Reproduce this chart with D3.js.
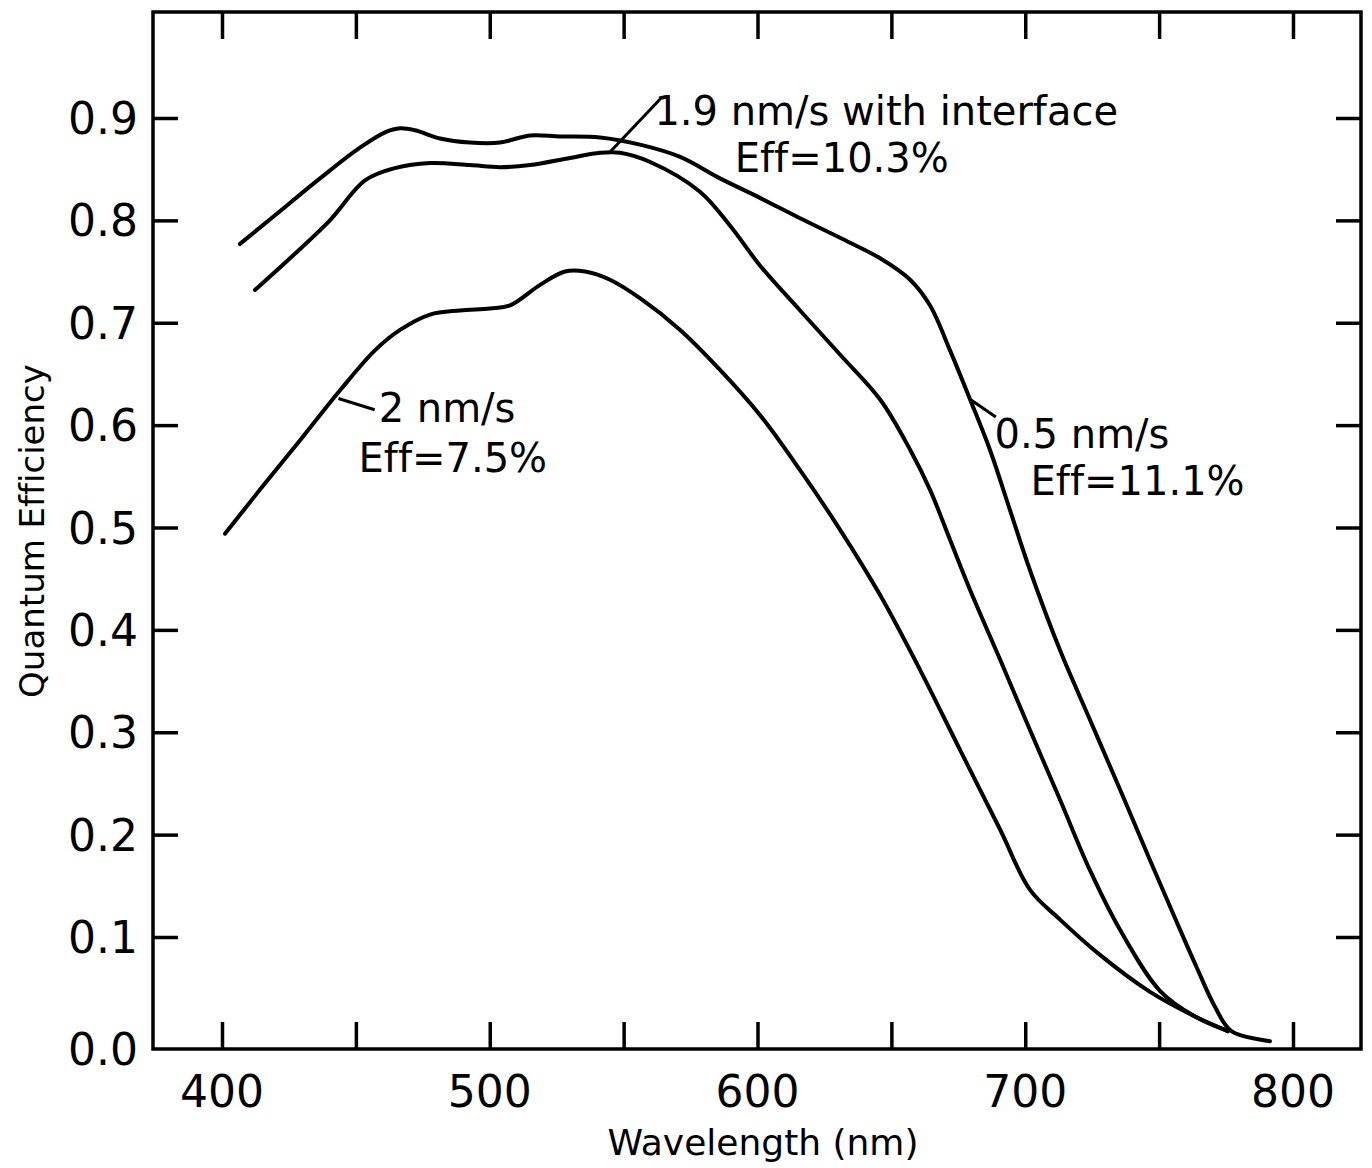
<!DOCTYPE html>
<html>
<head>
<meta charset="utf-8">
<script src="https://cdn.jsdelivr.net/npm/d3@7"></script>
<style>
  body { margin: 0; background: #fff; }
  svg text { font-family: "DejaVu Sans", sans-serif; fill: #000; font-variant-ligatures: none; }
</style>
</head>
<body>
<svg width="1372" height="1168"></svg>
<script>
// wavelength (nm) / quantum efficiency
var wl_05 = [406.7, 419.8, 436.6, 451.5, 460.9, 466.5, 472.1, 481.4, 492.6, 503.8, 515.0, 526.2, 541.2, 556.1, 571.1, 586.0, 600.9, 615.9, 630.8, 645.8, 657.0, 664.4, 671.9, 679.4, 686.8, 694.3, 701.8, 713.0, 724.2, 735.4, 746.6, 756.0, 764.0, 771.0, 777.0, 791.4];
var qe_05 = [0.777, 0.805, 0.841, 0.871, 0.886, 0.890, 0.888, 0.880, 0.876, 0.876, 0.883, 0.882, 0.881, 0.874, 0.862, 0.841, 0.822, 0.802, 0.783, 0.763, 0.742, 0.717, 0.673, 0.625, 0.576, 0.517, 0.458, 0.380, 0.312, 0.244, 0.175, 0.118, 0.073, 0.037, 0.016, 0.007];

var wl_19 = [412.3, 425.4, 440.3, 453.4, 464.6, 477.7, 492.6, 503.8, 515.0, 530.0, 541.2, 548.6, 559.9, 578.5, 589.7, 600.9, 615.9, 630.8, 645.8, 657.0, 664.4, 671.9, 679.4, 690.6, 701.8, 713.0, 724.2, 735.4, 750.3, 763.4, 775.7];
var qe_19 = [0.732, 0.763, 0.800, 0.839, 0.851, 0.856, 0.854, 0.852, 0.854, 0.861, 0.866, 0.866, 0.857, 0.828, 0.795, 0.756, 0.712, 0.669, 0.625, 0.576, 0.537, 0.488, 0.439, 0.371, 0.302, 0.234, 0.165, 0.107, 0.052, 0.029, 0.016];

var wl_2 = [401.1, 414.2, 429.1, 444.1, 457.1, 466.5, 477.7, 488.9, 500.1, 507.6, 518.8, 528.1, 535.6, 544.9, 556.1, 571.1, 586.0, 600.9, 615.9, 630.8, 645.8, 660.7, 675.6, 690.6, 701.8, 713.0, 727.9, 746.6, 763.4, 775.7];
var qe_2 = [0.494, 0.537, 0.585, 0.634, 0.673, 0.693, 0.708, 0.712, 0.714, 0.717, 0.737, 0.750, 0.750, 0.742, 0.724, 0.693, 0.654, 0.610, 0.556, 0.498, 0.434, 0.361, 0.283, 0.205, 0.146, 0.117, 0.084, 0.051, 0.029, 0.016];

var xTicks = [400, 450, 500, 550, 600, 650, 700, 750, 800];
var xLabels = [400, 500, 600, 700, 800];
var yTicks = [0.1, 0.2, 0.3, 0.4, 0.5, 0.6, 0.7, 0.8, 0.9];
var yLabels = ['0.0', '0.1', '0.2', '0.3', '0.4', '0.5', '0.6', '0.7', '0.8', '0.9'];

// annotation text and where it sits (data units)
var notes = [
  {t: '1.9 nm/s with interface', x: 561.5, y: 0.893},
  {t: 'Eff=10.3%', x: 591.5, y: 0.847},
  {t: '2 nm/s', x: 458.5, y: 0.603},
  {t: 'Eff=7.5%', x: 451, y: 0.554},
  {t: '0.5 nm/s', x: 688.5, y: 0.578},
  {t: 'Eff=11.1%', x: 702, y: 0.532}
];
var leaders = [
  [[545, 0.867], [563.5, 0.918]],
  [[443.5, 0.626], [457, 0.615]],
  [[679.5, 0.625], [689, 0.608]]
];

var svg = d3.select('svg');
var pl = 153, pr = 1361, pt = 12, pb = 1049;

var x = d3.scaleLinear().domain([400, 800]).range([222, 1293]);
// the printed axis is slightly stretched between 0.0 and 0.1
var y = d3.scaleLinear().domain([0, 0.1, 0.9]).range([pb, 937, 118]);

var g = svg.append('g');

// inward ticks on all four sides
g.append('g').attr('transform', 'translate(0,' + pb + ')')
  .call(d3.axisBottom(x).tickValues(xTicks).tickSizeInner(-27).tickSizeOuter(0).tickFormat(''));
g.append('g').attr('transform', 'translate(0,' + pt + ')')
  .call(d3.axisTop(x).tickValues(xTicks).tickSizeInner(-27).tickSizeOuter(0).tickFormat(''));
g.append('g').attr('transform', 'translate(' + pl + ',0)')
  .call(d3.axisLeft(y).tickValues(yTicks).tickSizeInner(-25).tickSizeOuter(0).tickFormat(''));
g.append('g').attr('transform', 'translate(' + pr + ',0)')
  .call(d3.axisRight(y).tickValues(yTicks).tickSizeInner(-25).tickSizeOuter(0).tickFormat(''));
g.selectAll('.domain').remove();
g.selectAll('.tick line').attr('stroke', '#000').attr('stroke-width', 3.5);

svg.append('rect')
  .attr('x', pl).attr('y', pt)
  .attr('width', pr - pl).attr('height', pb - pt)
  .attr('fill', 'none').attr('stroke', '#000').attr('stroke-width', 3.5);

// tick labels
svg.selectAll('.xl').data(xLabels).enter().append('text')
  .attr('x', function(d){return x(d)})
  .attr('y', pb + 58)
  .attr('text-anchor', 'middle')
  .attr('font-size', 44)
  .text(function(d){return d});
svg.selectAll('.yl').data(yLabels).enter().append('text')
  .attr('x', 138)
  .attr('y', function(d){return y(+d) + 16})
  .attr('text-anchor', 'end')
  .attr('font-size', 44)
  .text(function(d){return d});

svg.append('text')
  .attr('x', 763).attr('y', 1155)
  .attr('text-anchor', 'middle').attr('font-size', 36)
  .text('Wavelength (nm)');
svg.append('text')
  .attr('transform', 'translate(44,531) rotate(-90)')
  .attr('text-anchor', 'middle').attr('font-size', 34)
  .text('Quantum Efficiency');

// curves
var line = d3.line()
  .x(function(d){return x(d[0])})
  .y(function(d){return y(d[1])})
  .curve(d3.curveCatmullRom.alpha(0.5));

[[wl_05, qe_05], [wl_19, qe_19], [wl_2, qe_2]].forEach(function(s){
  svg.append('path')
    .datum(d3.zip(s[0], s[1]))
    .attr('d', line)
    .attr('fill', 'none')
    .attr('stroke', '#000')
    .attr('stroke-width', 4)
    .attr('stroke-linejoin', 'round')
    .attr('stroke-linecap', 'round');
});

// labels
svg.selectAll('.lead').data(leaders).enter().append('path')
  .attr('d', d3.line().x(function(d){return x(d[0])}).y(function(d){return y(d[1])}))
  .attr('stroke', '#000').attr('stroke-width', 3).attr('fill', 'none');
svg.selectAll('.note').data(notes).enter().append('text')
  .attr('x', function(d){return x(d.x)})
  .attr('y', function(d){return y(d.y)})
  .attr('font-size', 40)
  .text(function(d){return d.t});
</script>
</body>
</html>
